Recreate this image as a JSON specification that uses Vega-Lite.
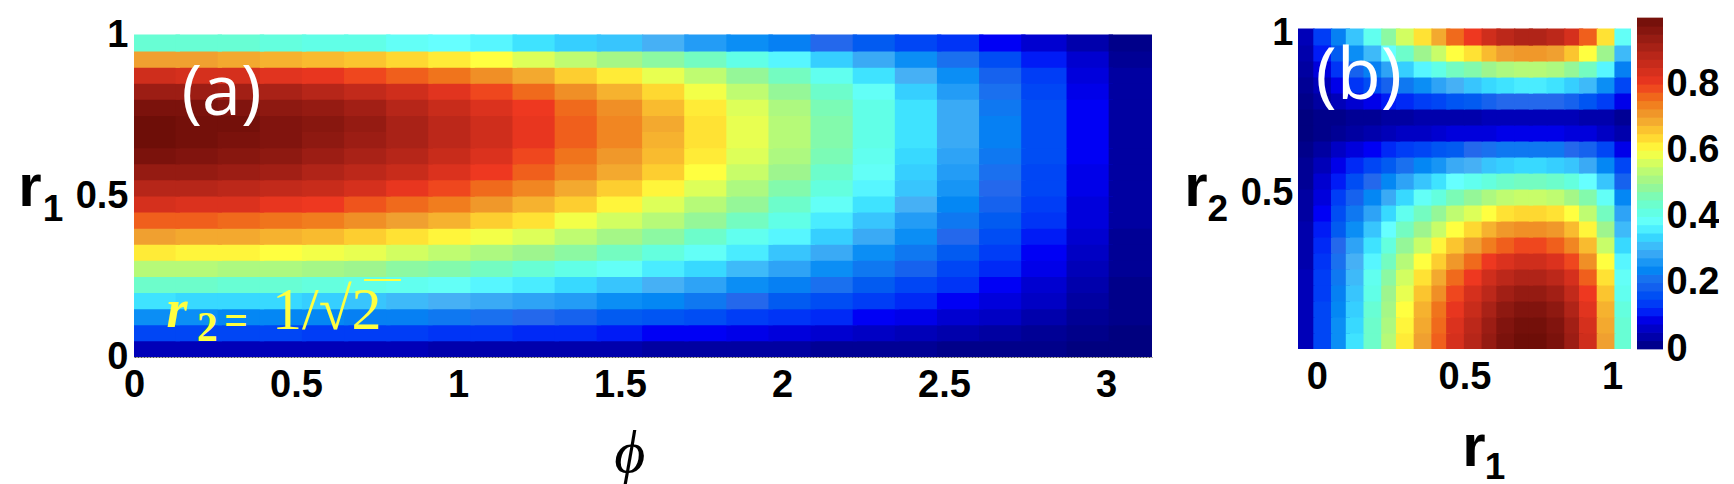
{"$schema":"https://vega.github.io/schema/vega-lite/v6.json","background":"white","padding":{"left":18,"top":14,"right":0,"bottom":0},"bounds":"flush","spacing":146,
"config":{"view":{"stroke":null},"axis":{"grid":false,"ticks":false,"domain":false,"title":null,"labelFont":"Liberation Sans","labelFontWeight":"bold","labelFontSize":38,"labelColor":"black","labelFlush":false,"labelOverlap":false,"labelBound":false,"format":"~g"}},
"datasets":{"a":[
{"x":0.07,"y":0.025,"v":0.05},{"x":0.2,"y":0.025,"v":0.05},{"x":0.33,"y":0.025,"v":0.05},{"x":0.46,"y":0.025,"v":0.05},{"x":0.59,"y":0.025,"v":0.05},{"x":0.72,"y":0.025,"v":0.05},{"x":0.85,"y":0.025,"v":0.05},{"x":0.98,"y":0.025,"v":0.04},{"x":1.11,"y":0.025,"v":0.04},{"x":1.24,"y":0.025,"v":0.04},{"x":1.37,"y":0.025,"v":0.04},{"x":1.5,"y":0.025,"v":0.04},{"x":1.64,"y":0.025,"v":0.03},{"x":1.77,"y":0.025,"v":0.03},{"x":1.9,"y":0.025,"v":0.03},{"x":2.03,"y":0.025,"v":0.03},{"x":2.16,"y":0.025,"v":0.02},{"x":2.29,"y":0.025,"v":0.02},{"x":2.42,"y":0.025,"v":0.02},{"x":2.55,"y":0.025,"v":0.01},{"x":2.68,"y":0.025,"v":0.01},{"x":2.81,"y":0.025,"v":0.01},{"x":2.95,"y":0.025,"v":0},{"x":3.08,"y":0.025,"v":0},
{"x":0.07,"y":0.075,"v":0.15},{"x":0.2,"y":0.075,"v":0.15},{"x":0.33,"y":0.075,"v":0.15},{"x":0.46,"y":0.075,"v":0.15},{"x":0.59,"y":0.075,"v":0.14},{"x":0.72,"y":0.075,"v":0.14},{"x":0.85,"y":0.075,"v":0.14},{"x":0.98,"y":0.075,"v":0.13},{"x":1.11,"y":0.075,"v":0.13},{"x":1.24,"y":0.075,"v":0.12},{"x":1.37,"y":0.075,"v":0.12},{"x":1.5,"y":0.075,"v":0.11},{"x":1.64,"y":0.075,"v":0.1},{"x":1.77,"y":0.075,"v":0.1},{"x":1.9,"y":0.075,"v":0.09},{"x":2.03,"y":0.075,"v":0.08},{"x":2.16,"y":0.075,"v":0.07},{"x":2.29,"y":0.075,"v":0.06},{"x":2.42,"y":0.075,"v":0.05},{"x":2.55,"y":0.075,"v":0.04},{"x":2.68,"y":0.075,"v":0.03},{"x":2.81,"y":0.075,"v":0.02},{"x":2.95,"y":0.075,"v":0.01},{"x":3.08,"y":0.075,"v":0},
{"x":0.07,"y":0.125,"v":0.25},{"x":0.2,"y":0.125,"v":0.25},{"x":0.33,"y":0.125,"v":0.24},{"x":0.46,"y":0.125,"v":0.24},{"x":0.59,"y":0.125,"v":0.24},{"x":0.72,"y":0.125,"v":0.23},{"x":0.85,"y":0.125,"v":0.23},{"x":0.98,"y":0.125,"v":0.22},{"x":1.11,"y":0.125,"v":0.21},{"x":1.24,"y":0.125,"v":0.2},{"x":1.37,"y":0.125,"v":0.19},{"x":1.5,"y":0.125,"v":0.18},{"x":1.64,"y":0.125,"v":0.17},{"x":1.77,"y":0.125,"v":0.16},{"x":1.9,"y":0.125,"v":0.14},{"x":2.03,"y":0.125,"v":0.13},{"x":2.16,"y":0.125,"v":0.12},{"x":2.29,"y":0.125,"v":0.1},{"x":2.42,"y":0.125,"v":0.09},{"x":2.55,"y":0.125,"v":0.07},{"x":2.68,"y":0.125,"v":0.06},{"x":2.81,"y":0.125,"v":0.04},{"x":2.95,"y":0.125,"v":0.02},{"x":3.08,"y":0.125,"v":0.01},
{"x":0.07,"y":0.175,"v":0.35},{"x":0.2,"y":0.175,"v":0.34},{"x":0.33,"y":0.175,"v":0.34},{"x":0.46,"y":0.175,"v":0.34},{"x":0.59,"y":0.175,"v":0.33},{"x":0.72,"y":0.175,"v":0.32},{"x":0.85,"y":0.175,"v":0.31},{"x":0.98,"y":0.175,"v":0.3},{"x":1.11,"y":0.175,"v":0.29},{"x":1.24,"y":0.175,"v":0.28},{"x":1.37,"y":0.175,"v":0.27},{"x":1.5,"y":0.175,"v":0.25},{"x":1.64,"y":0.175,"v":0.24},{"x":1.77,"y":0.175,"v":0.22},{"x":1.9,"y":0.175,"v":0.2},{"x":2.03,"y":0.175,"v":0.18},{"x":2.16,"y":0.175,"v":0.16},{"x":2.29,"y":0.175,"v":0.14},{"x":2.42,"y":0.175,"v":0.12},{"x":2.55,"y":0.175,"v":0.1},{"x":2.68,"y":0.175,"v":0.08},{"x":2.81,"y":0.175,"v":0.06},{"x":2.95,"y":0.175,"v":0.03},{"x":3.08,"y":0.175,"v":0.01},
{"x":0.07,"y":0.225,"v":0.44},{"x":0.2,"y":0.225,"v":0.44},{"x":0.33,"y":0.225,"v":0.43},{"x":0.46,"y":0.225,"v":0.43},{"x":0.59,"y":0.225,"v":0.42},{"x":0.72,"y":0.225,"v":0.41},{"x":0.85,"y":0.225,"v":0.4},{"x":0.98,"y":0.225,"v":0.39},{"x":1.11,"y":0.225,"v":0.37},{"x":1.24,"y":0.225,"v":0.36},{"x":1.37,"y":0.225,"v":0.34},{"x":1.5,"y":0.225,"v":0.32},{"x":1.64,"y":0.225,"v":0.3},{"x":1.77,"y":0.225,"v":0.28},{"x":1.9,"y":0.225,"v":0.25},{"x":2.03,"y":0.225,"v":0.23},{"x":2.16,"y":0.225,"v":0.21},{"x":2.29,"y":0.225,"v":0.18},{"x":2.42,"y":0.225,"v":0.15},{"x":2.55,"y":0.225,"v":0.13},{"x":2.68,"y":0.225,"v":0.1},{"x":2.81,"y":0.225,"v":0.07},{"x":2.95,"y":0.225,"v":0.04},{"x":3.08,"y":0.225,"v":0.01},
{"x":0.07,"y":0.275,"v":0.53},{"x":0.2,"y":0.275,"v":0.53},{"x":0.33,"y":0.275,"v":0.52},{"x":0.46,"y":0.275,"v":0.52},{"x":0.59,"y":0.275,"v":0.51},{"x":0.72,"y":0.275,"v":0.5},{"x":0.85,"y":0.275,"v":0.48},{"x":0.98,"y":0.275,"v":0.47},{"x":1.11,"y":0.275,"v":0.45},{"x":1.24,"y":0.275,"v":0.43},{"x":1.37,"y":0.275,"v":0.41},{"x":1.5,"y":0.275,"v":0.39},{"x":1.64,"y":0.275,"v":0.36},{"x":1.77,"y":0.275,"v":0.34},{"x":1.9,"y":0.275,"v":0.31},{"x":2.03,"y":0.275,"v":0.28},{"x":2.16,"y":0.275,"v":0.25},{"x":2.29,"y":0.275,"v":0.22},{"x":2.42,"y":0.275,"v":0.19},{"x":2.55,"y":0.275,"v":0.15},{"x":2.68,"y":0.275,"v":0.12},{"x":2.81,"y":0.275,"v":0.09},{"x":2.95,"y":0.275,"v":0.05},{"x":3.08,"y":0.275,"v":0.02},
{"x":0.07,"y":0.325,"v":0.62},{"x":0.2,"y":0.325,"v":0.61},{"x":0.33,"y":0.325,"v":0.61},{"x":0.46,"y":0.325,"v":0.6},{"x":0.59,"y":0.325,"v":0.59},{"x":0.72,"y":0.325,"v":0.58},{"x":0.85,"y":0.325,"v":0.56},{"x":0.98,"y":0.325,"v":0.54},{"x":1.11,"y":0.325,"v":0.52},{"x":1.24,"y":0.325,"v":0.5},{"x":1.37,"y":0.325,"v":0.48},{"x":1.5,"y":0.325,"v":0.45},{"x":1.64,"y":0.325,"v":0.42},{"x":1.77,"y":0.325,"v":0.39},{"x":1.9,"y":0.325,"v":0.36},{"x":2.03,"y":0.325,"v":0.32},{"x":2.16,"y":0.325,"v":0.29},{"x":2.29,"y":0.325,"v":0.25},{"x":2.42,"y":0.325,"v":0.22},{"x":2.55,"y":0.325,"v":0.18},{"x":2.68,"y":0.325,"v":0.14},{"x":2.81,"y":0.325,"v":0.1},{"x":2.95,"y":0.325,"v":0.06},{"x":3.08,"y":0.325,"v":0.02},
{"x":0.07,"y":0.375,"v":0.7},{"x":0.2,"y":0.375,"v":0.69},{"x":0.33,"y":0.375,"v":0.69},{"x":0.46,"y":0.375,"v":0.68},{"x":0.59,"y":0.375,"v":0.67},{"x":0.72,"y":0.375,"v":0.65},{"x":0.85,"y":0.375,"v":0.63},{"x":0.98,"y":0.375,"v":0.61},{"x":1.11,"y":0.375,"v":0.59},{"x":1.24,"y":0.375,"v":0.57},{"x":1.37,"y":0.375,"v":0.54},{"x":1.5,"y":0.375,"v":0.51},{"x":1.64,"y":0.375,"v":0.48},{"x":1.77,"y":0.375,"v":0.44},{"x":1.9,"y":0.375,"v":0.4},{"x":2.03,"y":0.375,"v":0.37},{"x":2.16,"y":0.375,"v":0.33},{"x":2.29,"y":0.375,"v":0.29},{"x":2.42,"y":0.375,"v":0.25},{"x":2.55,"y":0.375,"v":0.2},{"x":2.68,"y":0.375,"v":0.16},{"x":2.81,"y":0.375,"v":0.11},{"x":2.95,"y":0.375,"v":0.07},{"x":3.08,"y":0.375,"v":0.02},
{"x":0.07,"y":0.425,"v":0.77},{"x":0.2,"y":0.425,"v":0.77},{"x":0.33,"y":0.425,"v":0.76},{"x":0.46,"y":0.425,"v":0.75},{"x":0.59,"y":0.425,"v":0.74},{"x":0.72,"y":0.425,"v":0.72},{"x":0.85,"y":0.425,"v":0.7},{"x":0.98,"y":0.425,"v":0.68},{"x":1.11,"y":0.425,"v":0.65},{"x":1.24,"y":0.425,"v":0.63},{"x":1.37,"y":0.425,"v":0.59},{"x":1.5,"y":0.425,"v":0.56},{"x":1.64,"y":0.425,"v":0.53},{"x":1.77,"y":0.425,"v":0.49},{"x":1.9,"y":0.425,"v":0.45},{"x":2.03,"y":0.425,"v":0.41},{"x":2.16,"y":0.425,"v":0.36},{"x":2.29,"y":0.425,"v":0.32},{"x":2.42,"y":0.425,"v":0.27},{"x":2.55,"y":0.425,"v":0.22},{"x":2.68,"y":0.425,"v":0.18},{"x":2.81,"y":0.425,"v":0.13},{"x":2.95,"y":0.425,"v":0.08},{"x":3.08,"y":0.425,"v":0.03},
{"x":0.07,"y":0.475,"v":0.84},{"x":0.2,"y":0.475,"v":0.83},{"x":0.33,"y":0.475,"v":0.83},{"x":0.46,"y":0.475,"v":0.81},{"x":0.59,"y":0.475,"v":0.8},{"x":0.72,"y":0.475,"v":0.78},{"x":0.85,"y":0.475,"v":0.76},{"x":0.98,"y":0.475,"v":0.74},{"x":1.11,"y":0.475,"v":0.71},{"x":1.24,"y":0.475,"v":0.68},{"x":1.37,"y":0.475,"v":0.65},{"x":1.5,"y":0.475,"v":0.61},{"x":1.64,"y":0.475,"v":0.57},{"x":1.77,"y":0.475,"v":0.53},{"x":1.9,"y":0.475,"v":0.49},{"x":2.03,"y":0.475,"v":0.44},{"x":2.16,"y":0.475,"v":0.39},{"x":2.29,"y":0.475,"v":0.35},{"x":2.42,"y":0.475,"v":0.3},{"x":2.55,"y":0.475,"v":0.24},{"x":2.68,"y":0.475,"v":0.19},{"x":2.81,"y":0.475,"v":0.14},{"x":2.95,"y":0.475,"v":0.08},{"x":3.08,"y":0.475,"v":0.03},
{"x":0.07,"y":0.525,"v":0.89},{"x":0.2,"y":0.525,"v":0.89},{"x":0.33,"y":0.525,"v":0.88},{"x":0.46,"y":0.525,"v":0.87},{"x":0.59,"y":0.525,"v":0.86},{"x":0.72,"y":0.525,"v":0.84},{"x":0.85,"y":0.525,"v":0.81},{"x":0.98,"y":0.525,"v":0.79},{"x":1.11,"y":0.525,"v":0.76},{"x":1.24,"y":0.525,"v":0.73},{"x":1.37,"y":0.525,"v":0.69},{"x":1.5,"y":0.525,"v":0.65},{"x":1.64,"y":0.525,"v":0.61},{"x":1.77,"y":0.525,"v":0.57},{"x":1.9,"y":0.525,"v":0.52},{"x":2.03,"y":0.525,"v":0.47},{"x":2.16,"y":0.525,"v":0.42},{"x":2.29,"y":0.525,"v":0.37},{"x":2.42,"y":0.525,"v":0.32},{"x":2.55,"y":0.525,"v":0.26},{"x":2.68,"y":0.525,"v":0.2},{"x":2.81,"y":0.525,"v":0.15},{"x":2.95,"y":0.525,"v":0.09},{"x":3.08,"y":0.525,"v":0.03},
{"x":0.07,"y":0.575,"v":0.94},{"x":0.2,"y":0.575,"v":0.94},{"x":0.33,"y":0.575,"v":0.93},{"x":0.46,"y":0.575,"v":0.92},{"x":0.59,"y":0.575,"v":0.9},{"x":0.72,"y":0.575,"v":0.88},{"x":0.85,"y":0.575,"v":0.86},{"x":0.98,"y":0.575,"v":0.83},{"x":1.11,"y":0.575,"v":0.8},{"x":1.24,"y":0.575,"v":0.77},{"x":1.37,"y":0.575,"v":0.73},{"x":1.5,"y":0.575,"v":0.69},{"x":1.64,"y":0.575,"v":0.65},{"x":1.77,"y":0.575,"v":0.6},{"x":1.9,"y":0.575,"v":0.55},{"x":2.03,"y":0.575,"v":0.5},{"x":2.16,"y":0.575,"v":0.44},{"x":2.29,"y":0.575,"v":0.39},{"x":2.42,"y":0.575,"v":0.33},{"x":2.55,"y":0.575,"v":0.27},{"x":2.68,"y":0.575,"v":0.21},{"x":2.81,"y":0.575,"v":0.15},{"x":2.95,"y":0.575,"v":0.09},{"x":3.08,"y":0.575,"v":0.03},
{"x":0.07,"y":0.625,"v":0.98},{"x":0.2,"y":0.625,"v":0.97},{"x":0.33,"y":0.625,"v":0.96},{"x":0.46,"y":0.625,"v":0.95},{"x":0.59,"y":0.625,"v":0.93},{"x":0.72,"y":0.625,"v":0.91},{"x":0.85,"y":0.625,"v":0.89},{"x":0.98,"y":0.625,"v":0.86},{"x":1.11,"y":0.625,"v":0.83},{"x":1.24,"y":0.625,"v":0.79},{"x":1.37,"y":0.625,"v":0.75},{"x":1.5,"y":0.625,"v":0.71},{"x":1.64,"y":0.625,"v":0.67},{"x":1.77,"y":0.625,"v":0.62},{"x":1.9,"y":0.625,"v":0.57},{"x":2.03,"y":0.625,"v":0.52},{"x":2.16,"y":0.625,"v":0.46},{"x":2.29,"y":0.625,"v":0.4},{"x":2.42,"y":0.625,"v":0.34},{"x":2.55,"y":0.625,"v":0.28},{"x":2.68,"y":0.625,"v":0.22},{"x":2.81,"y":0.625,"v":0.16},{"x":2.95,"y":0.625,"v":0.1},{"x":3.08,"y":0.625,"v":0.03},
{"x":0.07,"y":0.675,"v":1},{"x":0.2,"y":0.675,"v":0.99},{"x":0.33,"y":0.675,"v":0.98},{"x":0.46,"y":0.675,"v":0.97},{"x":0.59,"y":0.675,"v":0.95},{"x":0.72,"y":0.675,"v":0.93},{"x":0.85,"y":0.675,"v":0.91},{"x":0.98,"y":0.675,"v":0.88},{"x":1.11,"y":0.675,"v":0.85},{"x":1.24,"y":0.675,"v":0.81},{"x":1.37,"y":0.675,"v":0.77},{"x":1.5,"y":0.675,"v":0.73},{"x":1.64,"y":0.675,"v":0.68},{"x":1.77,"y":0.675,"v":0.63},{"x":1.9,"y":0.675,"v":0.58},{"x":2.03,"y":0.675,"v":0.53},{"x":2.16,"y":0.675,"v":0.47},{"x":2.29,"y":0.675,"v":0.41},{"x":2.42,"y":0.675,"v":0.35},{"x":2.55,"y":0.675,"v":0.29},{"x":2.68,"y":0.675,"v":0.23},{"x":2.81,"y":0.675,"v":0.16},{"x":2.95,"y":0.675,"v":0.1},{"x":3.08,"y":0.675,"v":0.03},
{"x":0.07,"y":0.725,"v":1},{"x":0.2,"y":0.725,"v":0.99},{"x":0.33,"y":0.725,"v":0.99},{"x":0.46,"y":0.725,"v":0.97},{"x":0.59,"y":0.725,"v":0.96},{"x":0.72,"y":0.725,"v":0.94},{"x":0.85,"y":0.725,"v":0.91},{"x":0.98,"y":0.725,"v":0.88},{"x":1.11,"y":0.725,"v":0.85},{"x":1.24,"y":0.725,"v":0.81},{"x":1.37,"y":0.725,"v":0.77},{"x":1.5,"y":0.725,"v":0.73},{"x":1.64,"y":0.725,"v":0.69},{"x":1.77,"y":0.725,"v":0.63},{"x":1.9,"y":0.725,"v":0.58},{"x":2.03,"y":0.725,"v":0.53},{"x":2.16,"y":0.725,"v":0.47},{"x":2.29,"y":0.725,"v":0.41},{"x":2.42,"y":0.725,"v":0.35},{"x":2.55,"y":0.725,"v":0.29},{"x":2.68,"y":0.725,"v":0.23},{"x":2.81,"y":0.725,"v":0.16},{"x":2.95,"y":0.725,"v":0.1},{"x":3.08,"y":0.725,"v":0.03},
{"x":0.07,"y":0.775,"v":0.98},{"x":0.2,"y":0.775,"v":0.98},{"x":0.33,"y":0.775,"v":0.97},{"x":0.46,"y":0.775,"v":0.95},{"x":0.59,"y":0.775,"v":0.94},{"x":0.72,"y":0.775,"v":0.92},{"x":0.85,"y":0.775,"v":0.89},{"x":0.98,"y":0.775,"v":0.86},{"x":1.11,"y":0.775,"v":0.83},{"x":1.24,"y":0.775,"v":0.8},{"x":1.37,"y":0.775,"v":0.76},{"x":1.5,"y":0.775,"v":0.72},{"x":1.64,"y":0.775,"v":0.67},{"x":1.77,"y":0.775,"v":0.62},{"x":1.9,"y":0.775,"v":0.57},{"x":2.03,"y":0.775,"v":0.52},{"x":2.16,"y":0.775,"v":0.46},{"x":2.29,"y":0.775,"v":0.41},{"x":2.42,"y":0.775,"v":0.35},{"x":2.55,"y":0.775,"v":0.29},{"x":2.68,"y":0.775,"v":0.22},{"x":2.81,"y":0.775,"v":0.16},{"x":2.95,"y":0.775,"v":0.1},{"x":3.08,"y":0.775,"v":0.03},
{"x":0.07,"y":0.825,"v":0.93},{"x":0.2,"y":0.825,"v":0.93},{"x":0.33,"y":0.825,"v":0.92},{"x":0.46,"y":0.825,"v":0.91},{"x":0.59,"y":0.825,"v":0.89},{"x":0.72,"y":0.825,"v":0.87},{"x":0.85,"y":0.825,"v":0.85},{"x":0.98,"y":0.825,"v":0.82},{"x":1.11,"y":0.825,"v":0.79},{"x":1.24,"y":0.825,"v":0.76},{"x":1.37,"y":0.825,"v":0.72},{"x":1.5,"y":0.825,"v":0.68},{"x":1.64,"y":0.825,"v":0.64},{"x":1.77,"y":0.825,"v":0.59},{"x":1.9,"y":0.825,"v":0.54},{"x":2.03,"y":0.825,"v":0.49},{"x":2.16,"y":0.825,"v":0.44},{"x":2.29,"y":0.825,"v":0.39},{"x":2.42,"y":0.825,"v":0.33},{"x":2.55,"y":0.825,"v":0.27},{"x":2.68,"y":0.825,"v":0.21},{"x":2.81,"y":0.825,"v":0.15},{"x":2.95,"y":0.825,"v":0.09},{"x":3.08,"y":0.825,"v":0.03},
{"x":0.07,"y":0.875,"v":0.85},{"x":0.2,"y":0.875,"v":0.84},{"x":0.33,"y":0.875,"v":0.84},{"x":0.46,"y":0.875,"v":0.82},{"x":0.59,"y":0.875,"v":0.81},{"x":0.72,"y":0.875,"v":0.79},{"x":0.85,"y":0.875,"v":0.77},{"x":0.98,"y":0.875,"v":0.75},{"x":1.11,"y":0.875,"v":0.72},{"x":1.24,"y":0.875,"v":0.69},{"x":1.37,"y":0.875,"v":0.65},{"x":1.5,"y":0.875,"v":0.62},{"x":1.64,"y":0.875,"v":0.58},{"x":1.77,"y":0.875,"v":0.54},{"x":1.9,"y":0.875,"v":0.49},{"x":2.03,"y":0.875,"v":0.45},{"x":2.16,"y":0.875,"v":0.4},{"x":2.29,"y":0.875,"v":0.35},{"x":2.42,"y":0.875,"v":0.3},{"x":2.55,"y":0.875,"v":0.25},{"x":2.68,"y":0.875,"v":0.19},{"x":2.81,"y":0.875,"v":0.14},{"x":2.95,"y":0.875,"v":0.08},{"x":3.08,"y":0.875,"v":0.03},
{"x":0.07,"y":0.925,"v":0.7},{"x":0.2,"y":0.925,"v":0.7},{"x":0.33,"y":0.925,"v":0.69},{"x":0.46,"y":0.925,"v":0.68},{"x":0.59,"y":0.925,"v":0.67},{"x":0.72,"y":0.925,"v":0.66},{"x":0.85,"y":0.925,"v":0.64},{"x":0.98,"y":0.925,"v":0.62},{"x":1.11,"y":0.925,"v":0.6},{"x":1.24,"y":0.925,"v":0.57},{"x":1.37,"y":0.925,"v":0.54},{"x":1.5,"y":0.925,"v":0.51},{"x":1.64,"y":0.925,"v":0.48},{"x":1.77,"y":0.925,"v":0.45},{"x":1.9,"y":0.925,"v":0.41},{"x":2.03,"y":0.925,"v":0.37},{"x":2.16,"y":0.925,"v":0.33},{"x":2.29,"y":0.925,"v":0.29},{"x":2.42,"y":0.925,"v":0.25},{"x":2.55,"y":0.925,"v":0.21},{"x":2.68,"y":0.925,"v":0.16},{"x":2.81,"y":0.925,"v":0.11},{"x":2.95,"y":0.925,"v":0.07},{"x":3.08,"y":0.925,"v":0.02},
{"x":0.07,"y":0.975,"v":0.43},{"x":0.2,"y":0.975,"v":0.43},{"x":0.33,"y":0.975,"v":0.43},{"x":0.46,"y":0.975,"v":0.42},{"x":0.59,"y":0.975,"v":0.41},{"x":0.72,"y":0.975,"v":0.41},{"x":0.85,"y":0.975,"v":0.39},{"x":0.98,"y":0.975,"v":0.38},{"x":1.11,"y":0.975,"v":0.37},{"x":1.24,"y":0.975,"v":0.35},{"x":1.37,"y":0.975,"v":0.33},{"x":1.5,"y":0.975,"v":0.32},{"x":1.64,"y":0.975,"v":0.3},{"x":1.77,"y":0.975,"v":0.27},{"x":1.9,"y":0.975,"v":0.25},{"x":2.03,"y":0.975,"v":0.23},{"x":2.16,"y":0.975,"v":0.2},{"x":2.29,"y":0.975,"v":0.18},{"x":2.42,"y":0.975,"v":0.15},{"x":2.55,"y":0.975,"v":0.13},{"x":2.68,"y":0.975,"v":0.1},{"x":2.81,"y":0.975,"v":0.07},{"x":2.95,"y":0.975,"v":0.04},{"x":3.08,"y":0.975,"v":0.01}
],"b":[
{"x":-0.04,"y":0.025,"v":0.05},{"x":0.02,"y":0.025,"v":0.15},{"x":0.08,"y":0.025,"v":0.25},{"x":0.13,"y":0.025,"v":0.35},{"x":0.19,"y":0.025,"v":0.44},{"x":0.25,"y":0.025,"v":0.53},{"x":0.3,"y":0.025,"v":0.62},{"x":0.36,"y":0.025,"v":0.7},{"x":0.42,"y":0.025,"v":0.77},{"x":0.47,"y":0.025,"v":0.84},{"x":0.53,"y":0.025,"v":0.89},{"x":0.59,"y":0.025,"v":0.94},{"x":0.64,"y":0.025,"v":0.98},{"x":0.7,"y":0.025,"v":1},{"x":0.75,"y":0.025,"v":1},{"x":0.81,"y":0.025,"v":0.98},{"x":0.87,"y":0.025,"v":0.93},{"x":0.92,"y":0.025,"v":0.85},{"x":0.98,"y":0.025,"v":0.7},{"x":1.04,"y":0.025,"v":0.43},
{"x":-0.04,"y":0.075,"v":0.05},{"x":0.02,"y":0.075,"v":0.15},{"x":0.08,"y":0.075,"v":0.25},{"x":0.13,"y":0.075,"v":0.34},{"x":0.19,"y":0.075,"v":0.44},{"x":0.25,"y":0.075,"v":0.52},{"x":0.3,"y":0.075,"v":0.61},{"x":0.36,"y":0.075,"v":0.69},{"x":0.42,"y":0.075,"v":0.76},{"x":0.47,"y":0.075,"v":0.83},{"x":0.53,"y":0.075,"v":0.88},{"x":0.59,"y":0.075,"v":0.93},{"x":0.64,"y":0.075,"v":0.97},{"x":0.7,"y":0.075,"v":0.99},{"x":0.75,"y":0.075,"v":0.99},{"x":0.81,"y":0.075,"v":0.97},{"x":0.87,"y":0.075,"v":0.92},{"x":0.92,"y":0.075,"v":0.84},{"x":0.98,"y":0.075,"v":0.69},{"x":1.04,"y":0.075,"v":0.43},
{"x":-0.04,"y":0.125,"v":0.05},{"x":0.02,"y":0.125,"v":0.15},{"x":0.08,"y":0.125,"v":0.24},{"x":0.13,"y":0.125,"v":0.33},{"x":0.19,"y":0.125,"v":0.43},{"x":0.25,"y":0.125,"v":0.51},{"x":0.3,"y":0.125,"v":0.6},{"x":0.36,"y":0.125,"v":0.68},{"x":0.42,"y":0.125,"v":0.75},{"x":0.47,"y":0.125,"v":0.81},{"x":0.53,"y":0.125,"v":0.86},{"x":0.59,"y":0.125,"v":0.91},{"x":0.64,"y":0.125,"v":0.95},{"x":0.7,"y":0.125,"v":0.97},{"x":0.75,"y":0.125,"v":0.97},{"x":0.81,"y":0.125,"v":0.95},{"x":0.87,"y":0.125,"v":0.9},{"x":0.92,"y":0.125,"v":0.82},{"x":0.98,"y":0.125,"v":0.68},{"x":1.04,"y":0.125,"v":0.42},
{"x":-0.04,"y":0.175,"v":0.05},{"x":0.02,"y":0.175,"v":0.14},{"x":0.08,"y":0.175,"v":0.23},{"x":0.13,"y":0.175,"v":0.32},{"x":0.19,"y":0.175,"v":0.41},{"x":0.25,"y":0.175,"v":0.5},{"x":0.3,"y":0.175,"v":0.58},{"x":0.36,"y":0.175,"v":0.66},{"x":0.42,"y":0.175,"v":0.72},{"x":0.47,"y":0.175,"v":0.79},{"x":0.53,"y":0.175,"v":0.84},{"x":0.59,"y":0.175,"v":0.88},{"x":0.64,"y":0.175,"v":0.92},{"x":0.7,"y":0.175,"v":0.94},{"x":0.75,"y":0.175,"v":0.94},{"x":0.81,"y":0.175,"v":0.92},{"x":0.87,"y":0.175,"v":0.87},{"x":0.92,"y":0.175,"v":0.8},{"x":0.98,"y":0.175,"v":0.66},{"x":1.04,"y":0.175,"v":0.4},
{"x":-0.04,"y":0.225,"v":0.05},{"x":0.02,"y":0.225,"v":0.14},{"x":0.08,"y":0.225,"v":0.22},{"x":0.13,"y":0.225,"v":0.31},{"x":0.19,"y":0.225,"v":0.4},{"x":0.25,"y":0.225,"v":0.48},{"x":0.3,"y":0.225,"v":0.56},{"x":0.36,"y":0.225,"v":0.63},{"x":0.42,"y":0.225,"v":0.69},{"x":0.47,"y":0.225,"v":0.76},{"x":0.53,"y":0.225,"v":0.8},{"x":0.59,"y":0.225,"v":0.85},{"x":0.64,"y":0.225,"v":0.88},{"x":0.7,"y":0.225,"v":0.9},{"x":0.75,"y":0.225,"v":0.9},{"x":0.81,"y":0.225,"v":0.88},{"x":0.87,"y":0.225,"v":0.84},{"x":0.92,"y":0.225,"v":0.77},{"x":0.98,"y":0.225,"v":0.63},{"x":1.04,"y":0.225,"v":0.39},
{"x":-0.04,"y":0.275,"v":0.04},{"x":0.02,"y":0.275,"v":0.13},{"x":0.08,"y":0.275,"v":0.21},{"x":0.13,"y":0.275,"v":0.3},{"x":0.19,"y":0.275,"v":0.37},{"x":0.25,"y":0.275,"v":0.45},{"x":0.3,"y":0.275,"v":0.53},{"x":0.36,"y":0.275,"v":0.6},{"x":0.42,"y":0.275,"v":0.65},{"x":0.47,"y":0.275,"v":0.71},{"x":0.53,"y":0.275,"v":0.76},{"x":0.59,"y":0.275,"v":0.8},{"x":0.64,"y":0.275,"v":0.83},{"x":0.7,"y":0.275,"v":0.85},{"x":0.75,"y":0.275,"v":0.85},{"x":0.81,"y":0.275,"v":0.83},{"x":0.87,"y":0.275,"v":0.79},{"x":0.92,"y":0.275,"v":0.72},{"x":0.98,"y":0.275,"v":0.6},{"x":1.04,"y":0.275,"v":0.37},
{"x":-0.04,"y":0.325,"v":0.04},{"x":0.02,"y":0.325,"v":0.12},{"x":0.08,"y":0.325,"v":0.2},{"x":0.13,"y":0.325,"v":0.28},{"x":0.19,"y":0.325,"v":0.35},{"x":0.25,"y":0.325,"v":0.42},{"x":0.3,"y":0.325,"v":0.49},{"x":0.36,"y":0.325,"v":0.55},{"x":0.42,"y":0.325,"v":0.61},{"x":0.47,"y":0.325,"v":0.66},{"x":0.53,"y":0.325,"v":0.7},{"x":0.59,"y":0.325,"v":0.74},{"x":0.64,"y":0.325,"v":0.77},{"x":0.7,"y":0.325,"v":0.79},{"x":0.75,"y":0.325,"v":0.79},{"x":0.81,"y":0.325,"v":0.77},{"x":0.87,"y":0.325,"v":0.73},{"x":0.92,"y":0.325,"v":0.67},{"x":0.98,"y":0.325,"v":0.55},{"x":1.04,"y":0.325,"v":0.34},
{"x":-0.04,"y":0.375,"v":0.04},{"x":0.02,"y":0.375,"v":0.11},{"x":0.08,"y":0.375,"v":0.18},{"x":0.13,"y":0.375,"v":0.25},{"x":0.19,"y":0.375,"v":0.32},{"x":0.25,"y":0.375,"v":0.38},{"x":0.3,"y":0.375,"v":0.45},{"x":0.36,"y":0.375,"v":0.5},{"x":0.42,"y":0.375,"v":0.55},{"x":0.47,"y":0.375,"v":0.6},{"x":0.53,"y":0.375,"v":0.64},{"x":0.59,"y":0.375,"v":0.68},{"x":0.64,"y":0.375,"v":0.71},{"x":0.7,"y":0.375,"v":0.72},{"x":0.75,"y":0.375,"v":0.72},{"x":0.81,"y":0.375,"v":0.71},{"x":0.87,"y":0.375,"v":0.67},{"x":0.92,"y":0.375,"v":0.61},{"x":0.98,"y":0.375,"v":0.5},{"x":1.04,"y":0.375,"v":0.31},
{"x":-0.04,"y":0.425,"v":0.03},{"x":0.02,"y":0.425,"v":0.1},{"x":0.08,"y":0.425,"v":0.16},{"x":0.13,"y":0.425,"v":0.22},{"x":0.19,"y":0.425,"v":0.28},{"x":0.25,"y":0.425,"v":0.34},{"x":0.3,"y":0.425,"v":0.4},{"x":0.36,"y":0.425,"v":0.45},{"x":0.42,"y":0.425,"v":0.49},{"x":0.47,"y":0.425,"v":0.54},{"x":0.53,"y":0.425,"v":0.57},{"x":0.59,"y":0.425,"v":0.6},{"x":0.64,"y":0.425,"v":0.63},{"x":0.7,"y":0.425,"v":0.64},{"x":0.75,"y":0.425,"v":0.64},{"x":0.81,"y":0.425,"v":0.63},{"x":0.87,"y":0.425,"v":0.6},{"x":0.92,"y":0.425,"v":0.54},{"x":0.98,"y":0.425,"v":0.45},{"x":1.04,"y":0.425,"v":0.28},
{"x":-0.04,"y":0.475,"v":0.03},{"x":0.02,"y":0.475,"v":0.08},{"x":0.08,"y":0.475,"v":0.14},{"x":0.13,"y":0.475,"v":0.19},{"x":0.19,"y":0.475,"v":0.24},{"x":0.25,"y":0.475,"v":0.29},{"x":0.3,"y":0.475,"v":0.34},{"x":0.36,"y":0.475,"v":0.39},{"x":0.42,"y":0.475,"v":0.42},{"x":0.47,"y":0.475,"v":0.46},{"x":0.53,"y":0.475,"v":0.49},{"x":0.59,"y":0.475,"v":0.52},{"x":0.64,"y":0.475,"v":0.54},{"x":0.7,"y":0.475,"v":0.55},{"x":0.75,"y":0.475,"v":0.55},{"x":0.81,"y":0.475,"v":0.54},{"x":0.87,"y":0.475,"v":0.51},{"x":0.92,"y":0.475,"v":0.47},{"x":0.98,"y":0.475,"v":0.39},{"x":1.04,"y":0.475,"v":0.24},
{"x":-0.04,"y":0.525,"v":0.02},{"x":0.02,"y":0.525,"v":0.07},{"x":0.08,"y":0.525,"v":0.11},{"x":0.13,"y":0.525,"v":0.16},{"x":0.19,"y":0.525,"v":0.2},{"x":0.25,"y":0.525,"v":0.24},{"x":0.3,"y":0.525,"v":0.28},{"x":0.36,"y":0.525,"v":0.32},{"x":0.42,"y":0.525,"v":0.35},{"x":0.47,"y":0.525,"v":0.38},{"x":0.53,"y":0.525,"v":0.4},{"x":0.59,"y":0.525,"v":0.42},{"x":0.64,"y":0.525,"v":0.44},{"x":0.7,"y":0.525,"v":0.45},{"x":0.75,"y":0.525,"v":0.45},{"x":0.81,"y":0.525,"v":0.44},{"x":0.87,"y":0.525,"v":0.42},{"x":0.92,"y":0.525,"v":0.38},{"x":0.98,"y":0.525,"v":0.32},{"x":1.04,"y":0.525,"v":0.19},
{"x":-0.04,"y":0.575,"v":0.02},{"x":0.02,"y":0.575,"v":0.05},{"x":0.08,"y":0.575,"v":0.09},{"x":0.13,"y":0.575,"v":0.12},{"x":0.19,"y":0.575,"v":0.15},{"x":0.25,"y":0.575,"v":0.18},{"x":0.3,"y":0.575,"v":0.21},{"x":0.36,"y":0.575,"v":0.24},{"x":0.42,"y":0.575,"v":0.26},{"x":0.47,"y":0.575,"v":0.29},{"x":0.53,"y":0.575,"v":0.3},{"x":0.59,"y":0.575,"v":0.32},{"x":0.64,"y":0.575,"v":0.33},{"x":0.7,"y":0.575,"v":0.34},{"x":0.75,"y":0.575,"v":0.34},{"x":0.81,"y":0.575,"v":0.33},{"x":0.87,"y":0.575,"v":0.32},{"x":0.92,"y":0.575,"v":0.29},{"x":0.98,"y":0.575,"v":0.24},{"x":1.04,"y":0.575,"v":0.15},
{"x":-0.04,"y":0.625,"v":0.01},{"x":0.02,"y":0.625,"v":0.03},{"x":0.08,"y":0.625,"v":0.06},{"x":0.13,"y":0.625,"v":0.08},{"x":0.19,"y":0.625,"v":0.1},{"x":0.25,"y":0.625,"v":0.12},{"x":0.3,"y":0.625,"v":0.14},{"x":0.36,"y":0.625,"v":0.15},{"x":0.42,"y":0.625,"v":0.17},{"x":0.47,"y":0.625,"v":0.18},{"x":0.53,"y":0.625,"v":0.2},{"x":0.59,"y":0.625,"v":0.21},{"x":0.64,"y":0.625,"v":0.22},{"x":0.7,"y":0.625,"v":0.22},{"x":0.75,"y":0.625,"v":0.22},{"x":0.81,"y":0.625,"v":0.22},{"x":0.87,"y":0.625,"v":0.2},{"x":0.92,"y":0.625,"v":0.19},{"x":0.98,"y":0.625,"v":0.15},{"x":1.04,"y":0.625,"v":0.09},
{"x":-0.04,"y":0.675,"v":0},{"x":0.02,"y":0.675,"v":0.01},{"x":0.08,"y":0.675,"v":0.02},{"x":0.13,"y":0.675,"v":0.03},{"x":0.19,"y":0.675,"v":0.04},{"x":0.25,"y":0.675,"v":0.05},{"x":0.3,"y":0.675,"v":0.06},{"x":0.36,"y":0.675,"v":0.06},{"x":0.42,"y":0.675,"v":0.07},{"x":0.47,"y":0.675,"v":0.08},{"x":0.53,"y":0.675,"v":0.08},{"x":0.59,"y":0.675,"v":0.08},{"x":0.64,"y":0.675,"v":0.09},{"x":0.7,"y":0.675,"v":0.09},{"x":0.75,"y":0.675,"v":0.09},{"x":0.81,"y":0.675,"v":0.09},{"x":0.87,"y":0.675,"v":0.08},{"x":0.92,"y":0.675,"v":0.08},{"x":0.98,"y":0.675,"v":0.06},{"x":1.04,"y":0.675,"v":0.04},
{"x":-0.04,"y":0.725,"v":0},{"x":0.02,"y":0.725,"v":0.01},{"x":0.08,"y":0.725,"v":0.01},{"x":0.13,"y":0.725,"v":0.02},{"x":0.19,"y":0.725,"v":0.02},{"x":0.25,"y":0.725,"v":0.03},{"x":0.3,"y":0.725,"v":0.03},{"x":0.36,"y":0.725,"v":0.04},{"x":0.42,"y":0.725,"v":0.04},{"x":0.47,"y":0.725,"v":0.04},{"x":0.53,"y":0.725,"v":0.04},{"x":0.59,"y":0.725,"v":0.05},{"x":0.64,"y":0.725,"v":0.05},{"x":0.7,"y":0.725,"v":0.05},{"x":0.75,"y":0.725,"v":0.05},{"x":0.81,"y":0.725,"v":0.05},{"x":0.87,"y":0.725,"v":0.05},{"x":0.92,"y":0.725,"v":0.04},{"x":0.98,"y":0.725,"v":0.04},{"x":1.04,"y":0.725,"v":0.02},
{"x":-0.04,"y":0.775,"v":0.01},{"x":0.02,"y":0.775,"v":0.03},{"x":0.08,"y":0.775,"v":0.05},{"x":0.13,"y":0.775,"v":0.07},{"x":0.19,"y":0.775,"v":0.09},{"x":0.25,"y":0.775,"v":0.11},{"x":0.3,"y":0.775,"v":0.12},{"x":0.36,"y":0.775,"v":0.14},{"x":0.42,"y":0.775,"v":0.15},{"x":0.47,"y":0.775,"v":0.17},{"x":0.53,"y":0.775,"v":0.18},{"x":0.59,"y":0.775,"v":0.19},{"x":0.64,"y":0.775,"v":0.2},{"x":0.7,"y":0.775,"v":0.2},{"x":0.75,"y":0.775,"v":0.2},{"x":0.81,"y":0.775,"v":0.2},{"x":0.87,"y":0.775,"v":0.19},{"x":0.92,"y":0.775,"v":0.17},{"x":0.98,"y":0.775,"v":0.14},{"x":1.04,"y":0.775,"v":0.09},
{"x":-0.04,"y":0.825,"v":0.02},{"x":0.02,"y":0.825,"v":0.05},{"x":0.08,"y":0.825,"v":0.09},{"x":0.13,"y":0.825,"v":0.13},{"x":0.19,"y":0.825,"v":0.16},{"x":0.25,"y":0.825,"v":0.19},{"x":0.3,"y":0.825,"v":0.22},{"x":0.36,"y":0.825,"v":0.25},{"x":0.42,"y":0.825,"v":0.28},{"x":0.47,"y":0.825,"v":0.3},{"x":0.53,"y":0.825,"v":0.32},{"x":0.59,"y":0.825,"v":0.34},{"x":0.64,"y":0.825,"v":0.35},{"x":0.7,"y":0.825,"v":0.36},{"x":0.75,"y":0.825,"v":0.36},{"x":0.81,"y":0.825,"v":0.35},{"x":0.87,"y":0.825,"v":0.33},{"x":0.92,"y":0.825,"v":0.31},{"x":0.98,"y":0.825,"v":0.25},{"x":1.04,"y":0.825,"v":0.15},
{"x":-0.04,"y":0.875,"v":0.03},{"x":0.02,"y":0.875,"v":0.08},{"x":0.08,"y":0.875,"v":0.13},{"x":0.13,"y":0.875,"v":0.19},{"x":0.19,"y":0.875,"v":0.23},{"x":0.25,"y":0.875,"v":0.28},{"x":0.3,"y":0.875,"v":0.33},{"x":0.36,"y":0.875,"v":0.37},{"x":0.42,"y":0.875,"v":0.41},{"x":0.47,"y":0.875,"v":0.45},{"x":0.53,"y":0.875,"v":0.47},{"x":0.59,"y":0.875,"v":0.5},{"x":0.64,"y":0.875,"v":0.52},{"x":0.7,"y":0.875,"v":0.53},{"x":0.75,"y":0.875,"v":0.53},{"x":0.81,"y":0.875,"v":0.52},{"x":0.87,"y":0.875,"v":0.49},{"x":0.92,"y":0.875,"v":0.45},{"x":0.98,"y":0.875,"v":0.37},{"x":1.04,"y":0.875,"v":0.23},
{"x":-0.04,"y":0.925,"v":0.04},{"x":0.02,"y":0.925,"v":0.11},{"x":0.08,"y":0.925,"v":0.18},{"x":0.13,"y":0.925,"v":0.25},{"x":0.19,"y":0.925,"v":0.31},{"x":0.25,"y":0.925,"v":0.38},{"x":0.3,"y":0.925,"v":0.44},{"x":0.36,"y":0.925,"v":0.5},{"x":0.42,"y":0.925,"v":0.55},{"x":0.47,"y":0.925,"v":0.6},{"x":0.53,"y":0.925,"v":0.63},{"x":0.59,"y":0.925,"v":0.67},{"x":0.64,"y":0.925,"v":0.7},{"x":0.7,"y":0.925,"v":0.71},{"x":0.75,"y":0.925,"v":0.71},{"x":0.81,"y":0.925,"v":0.7},{"x":0.87,"y":0.925,"v":0.66},{"x":0.92,"y":0.925,"v":0.6},{"x":0.98,"y":0.925,"v":0.5},{"x":1.04,"y":0.925,"v":0.31},
{"x":-0.04,"y":0.975,"v":0.05},{"x":0.02,"y":0.975,"v":0.14},{"x":0.08,"y":0.975,"v":0.23},{"x":0.13,"y":0.975,"v":0.32},{"x":0.19,"y":0.975,"v":0.4},{"x":0.25,"y":0.975,"v":0.48},{"x":0.3,"y":0.975,"v":0.56},{"x":0.36,"y":0.975,"v":0.63},{"x":0.42,"y":0.975,"v":0.69},{"x":0.47,"y":0.975,"v":0.76},{"x":0.53,"y":0.975,"v":0.8},{"x":0.59,"y":0.975,"v":0.85},{"x":0.64,"y":0.975,"v":0.88},{"x":0.7,"y":0.975,"v":0.9},{"x":0.75,"y":0.975,"v":0.9},{"x":0.81,"y":0.975,"v":0.88},{"x":0.87,"y":0.975,"v":0.84},{"x":0.92,"y":0.975,"v":0.77},{"x":0.98,"y":0.975,"v":0.63},{"x":1.04,"y":0.975,"v":0.39}
],"c":[{"v":0.0125},{"v":0.0375},{"v":0.0625},{"v":0.0875},{"v":0.1125},{"v":0.1375},{"v":0.1625},{"v":0.1875},{"v":0.2125},{"v":0.2375},{"v":0.2625},{"v":0.2875},{"v":0.3125},{"v":0.3375},{"v":0.3625},{"v":0.3875},{"v":0.4125},{"v":0.4375},{"v":0.4625},{"v":0.4875},{"v":0.5125},{"v":0.5375},{"v":0.5625},{"v":0.5875},{"v":0.6125},{"v":0.6375},{"v":0.6625},{"v":0.6875},{"v":0.7125},{"v":0.7375},{"v":0.7625},{"v":0.7875},{"v":0.8125},{"v":0.8375},{"v":0.8625},{"v":0.8875},{"v":0.9125},{"v":0.9375},{"v":0.9625},{"v":0.9875}]},
"hconcat":[
{"width":1018,"height":339,
"encoding":{"x":{"field":"x","type":"quantitative","scale":{"domain":[0,3.142],"nice":false,"zero":false},"axis":{"values":[0,0.5,1,1.5,2,2.5,3],"labelPadding":9,"domain":true,"domainDash":[2,1],"domainColor":"#555555"}},"y":{"field":"y","type":"quantitative","scale":{"domain":[0,1.0528],"nice":false,"zero":false},"axis":{"values":[0,0.5,1],"labelPadding":6}}},
"layer":[
{"data":{"name":"a"},"mark":{"type":"rect","width":46.5,"height":17,"clip":true},"encoding":{"color":{"field":"v","type":"quantitative","legend":null,"scale":{"domain":[0,0.1,0.2,0.3,0.38,0.5,0.6,0.7,0.8,0.9,1],"range":["#00007f","#0000f5","#2468ec","#46b0f5","#66ffff","#9ef58e","#ffff40","#f0a030","#ee3820","#b02418","#6e0e08"]}}}},
{"data":{"values":[{"x":0.27,"y":0.817,"t":"(a)"}]},"mark":{"type":"text","font":"Open Sans","fontSize":70,"color":"white","baseline":"middle"},"encoding":{"text":{"field":"t"}}},
{"data":{"values":[{"x":-0.321,"y":0.469,"t":"r"}]},"mark":{"type":"text","font":"Liberation Sans","fontWeight":"bold","fontSize":60,"color":"black","baseline":"alphabetic"},"encoding":{"text":{"field":"t"}}},
{"data":{"values":[{"x":-0.25,"y":0.422,"t":"1"}]},"mark":{"type":"text","font":"Liberation Sans","fontWeight":"bold","fontSize":37,"color":"black","baseline":"alphabetic"},"encoding":{"text":{"field":"t"}}},
{"data":{"values":[{"x":0.1,"y":0.093,"t":"r"}]},"mark":{"type":"text","font":"Liberation Serif","fontWeight":"bold","fontStyle":"italic","fontSize":54,"color":"#ffff40","align":"left","baseline":"alphabetic"},"encoding":{"text":{"field":"t"}}},
{"data":{"values":[{"x":0.194,"y":0.05,"t":"2"},{"x":0.278,"y":0.07,"t":"="}]},"mark":{"type":"text","font":"Liberation Serif","fontWeight":"bold","fontSize":42,"color":"#ffff40","align":"left","baseline":"alphabetic"},"encoding":{"text":{"field":"t"}}},
{"data":{"values":[{"x":0.426,"y":0.087,"t":"1/√2"}]},"mark":{"type":"text","font":"Liberation Serif","fontSize":60,"color":"#ffff40","align":"left","baseline":"alphabetic"},"encoding":{"text":{"field":"t"}}},
{"data":{"values":[{"x":0.71,"x2":0.824,"y":0.239}]},"mark":{"type":"rule","color":"#ffff40","strokeWidth":2},"encoding":{"x2":{"field":"x2"}}},
{"data":{"values":[{"x":1.53,"y":-0.3,"t":"ϕ"}]},"mark":{"type":"text","font":"Liberation Serif","fontStyle":"italic","fontSize":60,"color":"black","baseline":"middle"},"encoding":{"text":{"field":"t"}}}
]},
{"bounds":"flush","spacing":6,"hconcat":[
{"width":333,"height":331,
"encoding":{"x":{"field":"x","type":"quantitative","scale":{"domain":[-0.064,1.064],"nice":false,"zero":false},"axis":{"values":[0,0.5,1],"labelPadding":9}},"y":{"field":"y","type":"quantitative","scale":{"domain":[0,1.0344],"nice":false,"zero":false},"axis":{"values":[0.5,1],"labelPadding":5,"labelOffset":4}}},
"layer":[
{"data":{"name":"b"},"mark":{"type":"rect","width":19,"height":17,"clip":true},"encoding":{"color":{"field":"v","type":"quantitative","legend":null,"scale":{"domain":[0,0.1,0.2,0.3,0.38,0.5,0.6,0.7,0.8,0.9,1],"range":["#00007f","#0000f5","#2468ec","#46b0f5","#66ffff","#9ef58e","#ffff40","#f0a030","#ee3820","#b02418","#6e0e08"]}}}},
{"data":{"values":[{"x":0.142,"y":0.85,"t":"(b)"}]},"mark":{"type":"text","font":"Open Sans","fontSize":72,"color":"white","baseline":"middle"},"encoding":{"text":{"field":"t"}}},
{"data":{"values":[{"x":-0.41,"y":0.447,"t":"r"},{"x":0.532,"y":-0.366,"t":"r"}]},"mark":{"type":"text","font":"Liberation Sans","fontWeight":"bold","fontSize":60,"color":"black","baseline":"alphabetic"},"encoding":{"text":{"field":"t"}}},
{"data":{"values":[{"x":-0.336,"y":0.4,"t":"2"},{"x":0.603,"y":-0.406,"t":"1"}]},"mark":{"type":"text","font":"Liberation Sans","fontWeight":"bold","fontSize":37,"color":"black","baseline":"alphabetic"},"encoding":{"text":{"field":"t"}}}
]},
{"width":26,"height":331,"data":{"name":"c"},"mark":{"type":"rect","height":9},
"encoding":{"y":{"field":"v","type":"quantitative","scale":{"domain":[0,1],"nice":false,"zero":false},"axis":{"orient":"right","values":[0,0.2,0.4,0.6,0.8],"labelPadding":3}},"color":{"field":"v","type":"quantitative","legend":null,"scale":{"domain":[0,0.1,0.2,0.3,0.38,0.5,0.6,0.7,0.8,0.9,1],"range":["#00007f","#0000f5","#2468ec","#46b0f5","#66ffff","#9ef58e","#ffff40","#f0a030","#ee3820","#b02418","#6e0e08"]}}}}
]}
]}
